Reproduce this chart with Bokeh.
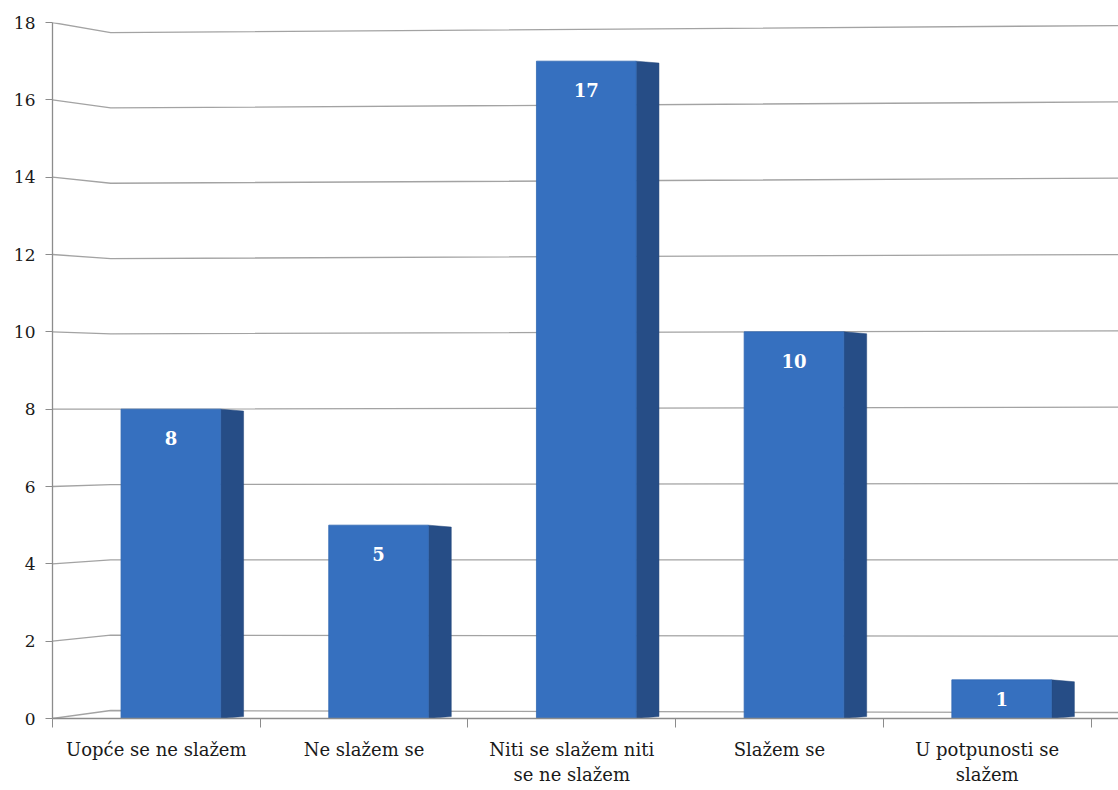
from bokeh.plotting import figure
from bokeh.models import Range1d, FixedTicker, ColumnDataSource
from bokeh.embed import file_html
from bokeh.resources import INLINE
from bokeh.core.properties import value

categories = ["Uopće se ne slažem", "Ne slažem se", "Niti se slažem niti\nse ne slažem",
              "Slažem se", "U potpunosti se\nslažem"]
counts = [8, 5, 17, 10, 1]
y_ticks = [0, 2, 4, 6, 8, 10, 12, 14, 16, 18]

n = len(categories)
W, H = 1118, 790
LEFT, TOP, BOTTOM = 52, 22, 72
PX_PER_CAT = 207.7
X_END = (W - LEFT) / PX_PER_CAT
centers = [i + 0.57 for i in range(n)]
half = 0.24
depth = 0.11

p = figure(width=W, height=H, x_range=Range1d(0, X_END), y_range=Range1d(0, 18),
           output_backend="svg", toolbar_location=None,
           min_border_left=LEFT, min_border_right=0, min_border_top=TOP, min_border_bottom=BOTTOM)
p.xgrid.visible = False
p.ygrid.visible = False
p.outline_line_color = None
p.background_fill_color = "white"
p.border_fill_color = "white"

# perspective gridlines (back wall)
gx, gy = [], []
for v in y_ticks:
    left_back = 0.207 + 0.974 * v
    right_back = 0.155 + 0.987 * v
    gx.append([0, 0.28, X_END])
    gy.append([v, left_back, right_back])
p.multi_line(gx, gy, line_color="#a3a3a3", line_width=1.3)

# bars: side faces
sx, sy = [], []
for c, v in zip(centers, counts):
    r = c + half
    sx.append([r, r + depth, r + depth, r])
    sy.append([0, 0.05, v - 0.05, v])
p.patches(sx, sy, fill_color="#264d86", line_color="#22467b", line_width=0.5)

# bars: front faces
src = ColumnDataSource(dict(x=centers, top=counts, lab=[str(c) for c in counts]))
p.vbar(x="x", top="top", bottom=0, width=2 * half, source=src,
       fill_color="#3670bf", line_color="#3168b2", line_width=0.8)

# data labels
src.data["off"] = [min(29, c * 38.67 / 2) for c in counts]
p.text(x="x", y="top", text="lab", source=src, y_offset="off",
       text_align="center", text_baseline="middle", text_color="white",
       text_font=value("DejaVu Serif"), text_font_style="bold", text_font_size="18px")

# y axis
ya = p.yaxis[0]
ya.ticker = FixedTicker(ticks=y_ticks)
ya.axis_line_color = "#8c8c8c"
ya.axis_line_width = 1.3
ya.major_tick_line_color = "#8c8c8c"
ya.major_tick_out = 7
ya.major_tick_in = 0
ya.minor_tick_line_color = None
ya.major_label_standoff = 10
ya.major_label_text_font = "DejaVu Serif"
ya.major_label_text_font_size = "17px"
ya.major_label_text_color = "#1a1a1a"

# x axis
xa = p.xaxis[0]
xa.ticker = FixedTicker(ticks=[i + 0.5 for i in range(n)], minor_ticks=[0, 1, 2, 3, 4, 5])
xa.major_label_overrides = {i + 0.5: categories[i] for i in range(n)}
xa.axis_line_color = "#8c8c8c"
xa.axis_line_width = 1.3
xa.major_tick_line_color = None
xa.minor_tick_line_color = "#8c8c8c"
xa.minor_tick_out = 9
xa.minor_tick_in = 0
xa.major_label_standoff = 11
xa.major_label_text_font = "DejaVu Serif"
xa.major_label_text_font_size = "18px"
xa.major_label_text_color = "#1a1a1a"

open("out.html", "w").write(file_html(p, INLINE))
